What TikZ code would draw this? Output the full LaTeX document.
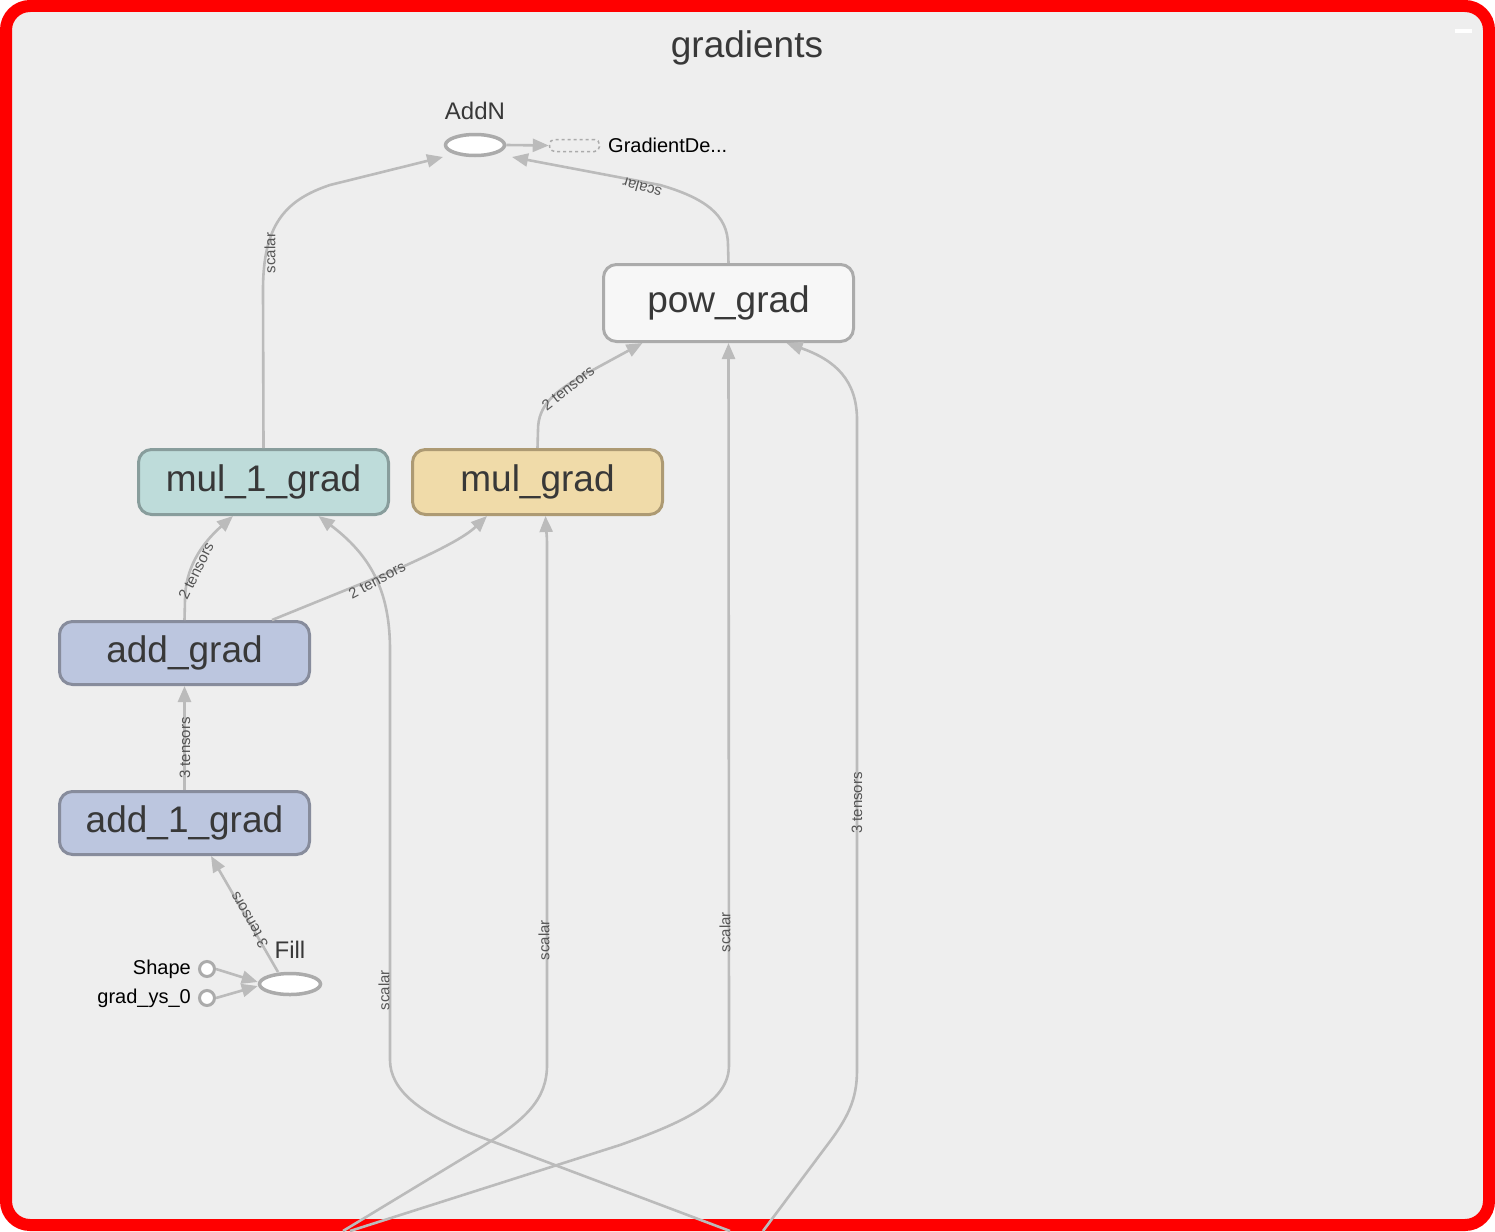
\documentclass[tikz,border=0pt]{standalone}
\usepackage{fontspec}
\setmainfont{Liberation Sans}
\usetikzlibrary{arrows.meta,calc,shapes.geometric}
\definecolor{bgc}{HTML}{EEEEEE}
\definecolor{edgec}{HTML}{BBBBBB}
\definecolor{txtc}{HTML}{383838}
\definecolor{lblc}{HTML}{555555}
\definecolor{powfill}{HTML}{F7F7F7}
\definecolor{powdraw}{HTML}{ABABAB}
\definecolor{tealfill}{HTML}{BEDCDA}
\definecolor{tealdraw}{HTML}{889D9C}
\definecolor{tanfill}{HTML}{F0DBA9}
\definecolor{tandraw}{HTML}{AD9A73}
\definecolor{bluefill}{HTML}{BCC6DF}
\definecolor{bluedraw}{HTML}{878C9C}
\definecolor{redc}{HTML}{FF0000}
\tikzset{
 opbox/.style={rectangle, rounded corners=13pt, line width=3pt, inner sep=0pt, minimum width=250pt, minimum height=65pt, text=txtc, font=\fontsize{37}{40}\selectfont},
 opell/.style={ellipse, draw=powdraw, fill=white, line width=3.5pt, inner sep=0pt, minimum width=59pt, minimum height=21pt},
 constc/.style={circle, draw=powdraw, fill=white, line width=3pt, inner sep=0pt, minimum size=15pt},
 conn/.style={draw=edgec, line width=2.6pt, -{Triangle[length=16pt,width=13pt]}},
 elabel/.style={text=lblc, font=\fontsize{15}{16}\selectfont, inner sep=0pt},
 nlabel/.style={text=txtc, font=\fontsize{24}{26}\selectfont, inner sep=0pt},
 slabel/.style={text=black, font=\fontsize{20}{22}\selectfont, inner sep=0pt},
}
\begin{document}
\begin{tikzpicture}[x=1pt,y=-1pt]
\useasboundingbox (0,0) rectangle (1495,1231);
\draw[redc, line width=12pt, fill=bgc, rounded corners=24pt] (6,6) rectangle (1489,1225);
\node[text=txtc, font=\fontsize{37}{40}\selectfont, inner sep=0pt] (title) at (747,48) {gradients};
\node[fill=white, minimum width=17pt, minimum height=4pt, inner sep=0pt] (minbtn) at (1463.5,31.5) {};

% nodes
\node[opell] (addn) at (475,145) {};
\node[nlabel] (addnl) at (475,111) {AddN};
\node[draw=powdraw, dashed, line width=1.5pt, rounded corners=5pt, minimum width=50pt, minimum height=12pt, inner sep=0pt] (gdbox) at (574.5,145.5) {};
\node[slabel, anchor=west] (gdl) at (608,145) {GradientDe...};
\node[opbox, fill=powfill, draw=powdraw, minimum height=77pt] (pw) at (728.5,303) {pow\_grad};
\node[opbox, fill=tealfill, draw=tealdraw] (m1) at (263.5,482) {mul\_1\_grad};
\node[opbox, fill=tanfill, draw=tandraw] (mg) at (537.5,482) {mul\_grad};
\node[opbox, fill=bluefill, draw=bluedraw, minimum height=63pt] (ag) at (184.5,653) {add\_grad};
\node[opbox, fill=bluefill, draw=bluedraw, minimum height=63pt] (a1) at (184.5,823) {add\_1\_grad};
\node[opell, minimum width=61pt] (fill) at (290,984) {};
\node[nlabel] (filll) at (290,950) {Fill};
\node[constc] (shape) at (207,969) {};
\node[slabel, anchor=east] (shapel) at (191,969) {Shape};
\node[constc] (gys) at (207,998) {};
\node[slabel, anchor=east] (gysl) at (191,998) {grad\_ys\_0};

\coordinate (inA) at (730,1231);
\coordinate (inB) at (343,1231);
\coordinate (inC) at (350,1231);
\coordinate (inD) at (763,1231);

% connectors
\draw[conn] (addn.east) -- (gdbox.west);
\draw[conn] (m1.north) -- (263,290) .. controls (263,225) and (285,200) .. (330,185) -- ($(addn.center)+(-32,12)$);
\draw[conn] (pw.north) -- (728,245) .. controls (728,215) and (705,198) .. (660,185) -- ($(addn.center)+(37,12)$);
\draw[conn] (mg.north) -- (538,430) .. controls (538,405) and (555,392) .. (580,377) -- ($(pw.south)+(-86,0)$);
\draw[conn] (ag.north) -- (185,600) .. controls (185,570) and (200,545) .. ($(m1.south)+(-30.5,0)$);
\draw[conn] ($(ag.north)+(87.5,0)$) -- (400,568) .. controls (440,550) and (465,537) .. ($(mg.south)+(-50.5,0)$);
\draw[conn] (a1.north) -- (ag.south);
\draw[conn] ($(fill.center)+(-12,-12)$) -- ($(a1.south)+(26.5,0)$);
\draw[conn] (shape.east) -- ($(fill.west)+(0,-2)$);
\draw[conn] (gys.east) -- ($(fill.west)+(0,2)$);
\draw[conn] (inA) -- (470,1133) .. controls (420,1113) and (390,1090) .. (390,1060) -- (390,650) .. controls (390,590) and (370,555) .. ($(m1.south)+(55,0)$);
\draw[conn] (inB) -- (480,1148) .. controls (525,1120) and (547,1100) .. (547,1065) -- (547,545) .. controls (547,535) and (546,528) .. ($(mg.south)+(8,0)$);
\draw[conn] (inC) -- (620,1145) .. controls (690,1120) and (729,1100) .. (729,1065) -- (pw.south);
\draw[conn] (inD) -- (825,1148) .. controls (848,1118) and (857,1100) .. (857,1070) -- (857,420) .. controls (857,380) and (835,360) .. ($(pw.south)+(58,0)$);

% edge labels
\node[elabel, rotate=90] (l1) at (270,253) {scalar};
\node[elabel, rotate=164] (l2) at (642,188) {scalar};
\node[elabel, rotate=38] (l3) at (568,388) {2 tensors};
\node[elabel, rotate=64] (l4) at (196,571) {2 tensors};
\node[elabel, rotate=28] (l5) at (377,580) {2 tensors};
\node[elabel, rotate=90] (l6) at (185,748) {3 tensors};
\node[elabel, rotate=120] (l7) at (249,920) {3 tensors};
\node[elabel, rotate=90] (l8) at (384,990) {scalar};
\node[elabel, rotate=90] (l9) at (544,940) {scalar};
\node[elabel, rotate=90] (l10) at (725,932) {scalar};
\node[elabel, rotate=90] (l11) at (857,803) {3 tensors};
\end{tikzpicture}
\end{document}
